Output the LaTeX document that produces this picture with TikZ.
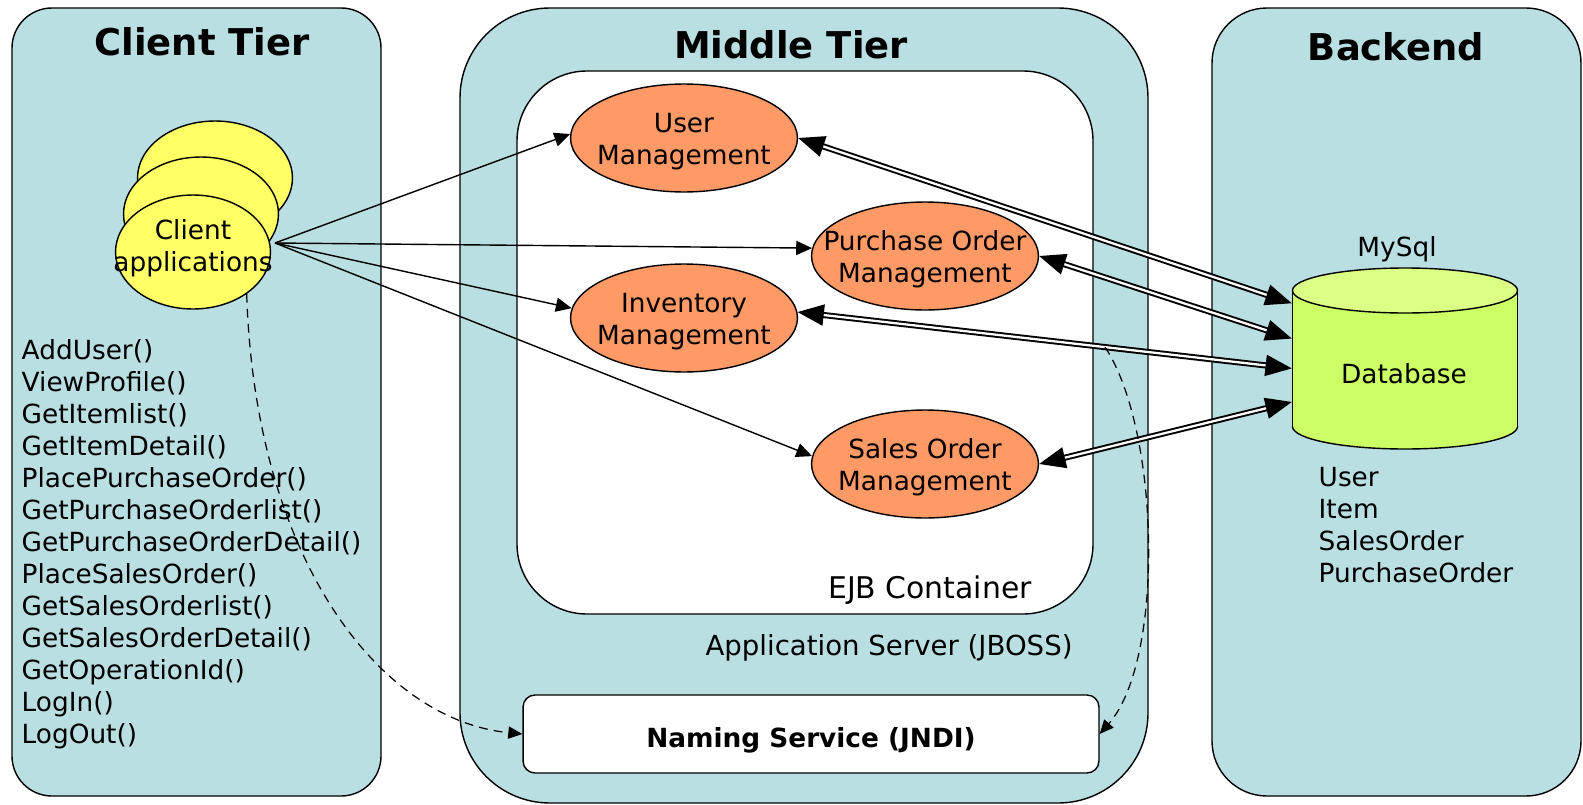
\documentclass[tikz,border=0pt]{standalone}
\usepackage{fontspec}
\setmainfont{DejaVu Sans}
\usetikzlibrary{shapes.geometric,arrows.meta}

\definecolor{tierblue}{RGB}{186,223,227}
\definecolor{appyellow}{RGB}{255,255,102}
\definecolor{beanorange}{RGB}{255,153,102}
\definecolor{dbgreen}{RGB}{204,255,102}
\definecolor{dbtop}{RGB}{219,255,133}

\begin{document}
\begin{tikzpicture}[x=0.02cm, y=-0.02cm, line width=0.8pt,
    every node/.style={font=\fontsize{15}{18.2}\selectfont, inner sep=0pt},
    tier/.style={draw, fill=tierblue, rounded corners=#1},
    title/.style={font=\fontsize{21}{25}\selectfont\bfseries},
    app/.style={ellipse, draw, fill=appyellow, minimum width=3.1cm, minimum height=2.28cm},
    bean/.style={ellipse, draw, fill=beanorange, minimum width=4.54cm, minimum height=2.16cm},
    beantext/.style={align=center, yshift=-0.07cm},
    call/.style={-{Triangle[length=9pt,width=8pt]}},
    dbline/.style={double, double distance=1.3pt, line width=1.1pt,
        {Triangle[length=15pt,width=12pt]}-{Triangle[length=15pt,width=12pt]}},
    lookup/.style={dash pattern=on 5pt off 3.5pt, line width=0.7pt, -{Triangle[length=8pt,width=7pt]}}]
    \useasboundingbox (0,0) rectangle (1583,805);

    % the three tiers
    \draw[tier=0.8cm] (12,8) rectangle (381,796);
    \draw[tier=1.8cm] (460,8) rectangle (1148,803);
    \draw[tier=1.1cm] (1212,8) rectangle (1581,796);
    \node[title] (clienttitle) at (202,42) {Client Tier};
    \node[title] (middletitle) at (791,45) {Middle Tier};
    \node[title] (backtitle) at (1396,47) {Backend};

    % application server
    \draw[fill=white, rounded corners=1.4cm] (517,71) rectangle (1093,614);
    \node[font=\fontsize{17}{20}\selectfont] (ejb) at (930,590) {EJB Container};
    \node[font=\fontsize{15.7}{19}\selectfont] (appserver) at (889,648) {Application Server (JBOSS)};
    \node[draw, fill=white, rounded corners=0.24cm, minimum width=11.52cm, minimum height=1.56cm,
        label={[font=\fontsize{15}{18}\selectfont\bfseries, yshift=-0.13cm]center:Naming Service (JNDI)}] (jndi) at (811,734) {};

    % clients
    \node[app] (app1) at (215,178) {};
    \node[app] (app2) at (201,214) {};
    \node[app, label={[align=center, yshift=0.08cm]center:Client\\applications}] (app3) at (193,252) {};
    \node[anchor=west, align=left] (methods) at (21,544) {AddUser()\\ViewProfile()\\GetItemlist()\\GetItemDetail()\\PlacePurchaseOrder()\\GetPurchaseOrderlist()\\GetPurchaseOrderDetail()\\PlaceSalesOrder()\\GetSalesOrderlist()\\GetSalesOrderDetail()\\GetOperationId()\\LogIn()\\LogOut()};

    % session beans
    \node[bean, label={[beantext]center:User\\Management}] (user) at (684,138) {};
    \node[bean, label={[beantext]center:Purchase Order\\Management}] (purchase) at (925,256) {};
    \node[bean, label={[beantext]center:Inventory\\Management}] (inventory) at (684,318) {};
    \node[bean, label={[beantext]center:Sales Order\\Management}] (sales) at (925,464) {};

    % database
    \draw[fill=dbgreen] (1405,426.5) ellipse [x radius=112.5, y radius=22.5];
    \fill[dbgreen] (1292.5,290.5) rectangle (1517.5,426.5);
    \draw (1292.5,290.5) -- (1292.5,426.5) (1517.5,290.5) -- (1517.5,426.5);
    \draw[fill=dbtop] (1405,290.5) ellipse [x radius=112.5, y radius=22.5];
    \node[minimum width=4.5cm, minimum height=3.62cm] (db) at (1405,358.5) {};
    \node (dbname) at (1404,374) {Database};
    \node (mysql) at (1397,249) {MySql};
    \node[anchor=west, align=left] (tables) at (1318,525) {User\\Item\\SalesOrder\\PurchaseOrder};

    % calls from the clients
    \coordinate (fan) at (275,243);
    \draw[call] (fan) -- (user.178);
    \draw[call] (fan) -- (purchase.176);
    \draw[call] (fan) -- (inventory.175);
    \draw[call] (fan) -- (sales.176);

    % beans and database
    \draw[dbline] (user.east) -- (db.154);
    \draw[dbline] (purchase.east) -- (db.170);
    \draw[dbline] (inventory.3) -- (db.185);
    \draw[dbline] (sales.east) -- (db.201);

    % JNDI lookups
    \coordinate (invtap) at (1105,347);
    \draw[lookup] (app3.-38) .. controls (255,560) and (380,720) .. (jndi.west);
    \draw[lookup] (invtap) .. controls (1160,430) and (1165,660) .. (jndi.east);
\end{tikzpicture}
\end{document}
